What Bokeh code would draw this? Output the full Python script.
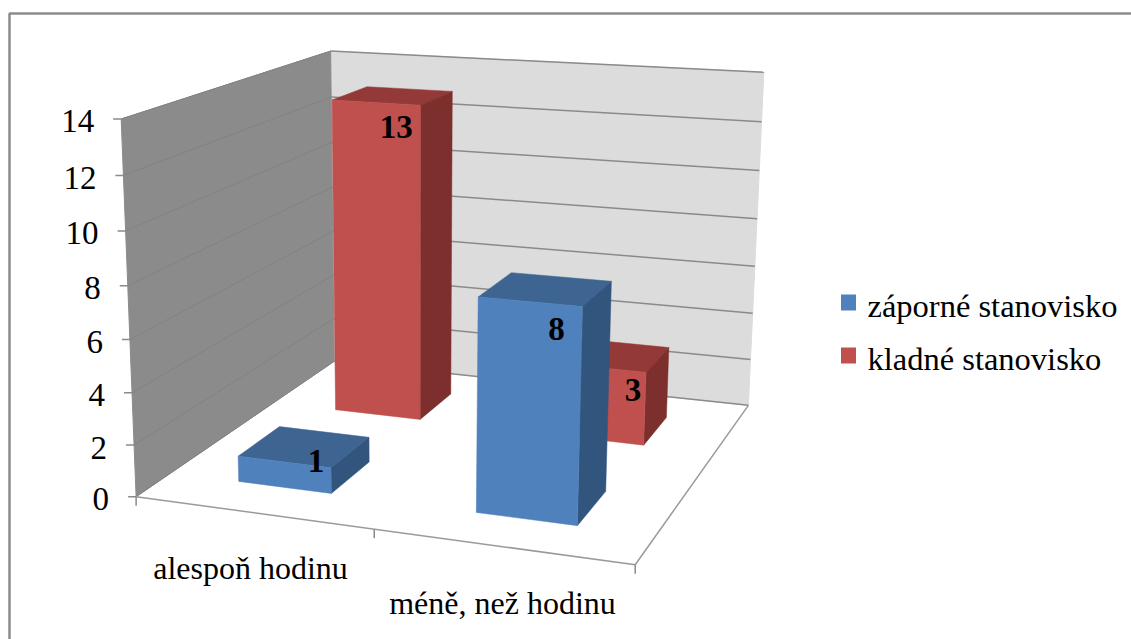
import numpy as np
from bokeh.core.properties import value
from bokeh.embed import file_html
from bokeh.models import Range1d
from bokeh.plotting import figure
from bokeh.resources import INLINE

# Chart content
categories = ["alespoň hodinu", "méně, než hodinu"]
series_names = ["záporné stanovisko", "kladné stanovisko"]
zaporne = [1, 8]
kladne = [13, 3]
value_ticks = [0, 2, 4, 6, 8, 10, 12, 14]

# Colours for each series: front, top, side
BLUE = ("#4f81bd", "#3e6592", "#32557e")
RED = ("#c0504d", "#933a38", "#7c2f2d")

# Camera calibration of the plot box: (category, depth, value) -> page pixel
BOX_WORLD = np.array([
    (0, 0, 0), (2, 0, 0), (0, 1, 0), (2, 1, 0),
    (0, 0, 14), (0, 1, 14), (2, 1, 14),
], dtype=float)
BOX_PAGE = np.array([
    (136, 495), (635, 565), (333, 362), (748, 404),
    (120, 119), (331, 50), (763, 72),
], dtype=float)


def fit_camera(world, page):
    rows, rhs = [], []
    for (u, v, h), (x, y) in zip(world, page):
        rows.append([u, v, h, 1, 0, 0, 0, 0, -x * u, -x * v, -x * h])
        rhs.append(x)
        rows.append([0, 0, 0, 0, u, v, h, 1, -y * u, -y * v, -y * h])
        rhs.append(y)
    sol = np.linalg.lstsq(np.array(rows), np.array(rhs), rcond=None)[0]
    return np.append(sol, 1.0).reshape(3, 4)


CAMERA = fit_camera(BOX_WORLD, BOX_PAGE)


def project(u, v, h):
    px, py, w = CAMERA @ np.array([u, v, h, 1.0])
    return px / w, py / w


def face(points):
    xs, ys = zip(*(project(*pt) for pt in points))
    return list(xs), list(ys)


SERIF = value("Liberation Serif")

p = figure(
    width=1131, height=639, output_backend="svg", toolbar_location=None,
    x_range=Range1d(0, 1131), y_range=Range1d(639, 0), min_border=0,
)
p.axis.visible = False
p.grid.visible = False
p.outline_line_color = None
p.background_fill_color = "white"

# Outer chart frame, open towards the page edges
p.line([1131, 9, 9], [13, 13, 639], line_color="#8c8c8c", line_width=2.5)

# Walls
xs, ys = face([(0, 1, 0), (2, 1, 0), (2, 1, 14), (0, 1, 14)])
p.patch(xs, ys, fill_color="#dcdcdc", line_color="#dcdcdc")
xs, ys = face([(0, 0, 0), (0, 1, 0), (0, 1, 14), (0, 0, 14)])
p.patch(xs, ys, fill_color="#8b8b8b", line_color="#8b8b8b")

# Gridlines on both walls, with the value ticks and labels
for tick in value_ticks:
    xs, ys = face([(0, 0, tick), (0, 1, tick)])
    p.line(xs, ys, line_color="#828282", line_width=1)
    xs, ys = face([(0, 1, tick), (2, 1, tick)])
    p.line(xs, ys, line_color="#8a8a8a", line_width=1.5)
    x0, y0 = project(0, 0, tick)
    p.segment([x0 - 8], [y0], [x0], [y0], line_color="#8a8a8a", line_width=1.5)
    p.text([x0 - 27], [y0 + 2.5], text=[str(tick)], text_font=SERIF,
           text_font_size="33px", text_align="right", text_baseline="middle",
           text_color="#000000")

# Floor edges and category ticks
xs, ys = face([(0, 0, 0), (2, 0, 0), (2, 1, 0)])
p.line(xs, ys, line_color="#9a9a9a", line_width=1.5)
for c in range(len(categories) + 1):
    x0, y0 = project(c, 0, 0)
    p.segment([x0], [y0], [x0], [y0 + 9], line_color="#8a8a8a", line_width=1.5)

BAR_U = (0.30, 0.70)      # bar extent within a category
BAR_V = (0.15, 0.35)      # bar extent within the depth of a series slot


def draw_bar(cat, slot, val, colours):
    u0, u1 = cat + BAR_U[0], cat + BAR_U[1]
    v0, v1 = slot + BAR_V[0], slot + BAR_V[1]
    front, top, side = colours
    for pts, col in (
        ([(u0, v0, val), (u1, v0, val), (u1, v1, val), (u0, v1, val)], top),
        ([(u1, v0, 0), (u1, v1, 0), (u1, v1, val), (u1, v0, val)], side),
        ([(u0, v0, 0), (u1, v0, 0), (u1, v0, val), (u0, v0, val)], front),
    ):
        xs, ys = face(pts)
        p.patch(xs, ys, fill_color=col, line_color=col, line_width=0.5)


# Rear series first so that the front series overlaps it
for cat, val in enumerate(kladne):
    draw_bar(cat, 0.5, val, RED)
for cat, val in enumerate(zaporne):
    draw_bar(cat, 0.0, val, BLUE)

# Data labels, placed relative to the top front edge of each bar
LABEL_SHIFT = {(0, 0.0): (-15, -7), (1, 0.0): (-26, 23), (0, 0.5): (-24, 22), (1, 0.5): (-13, 18)}
for slot, vals in ((0.5, kladne), (0.0, zaporne)):
    for cat, val in enumerate(vals):
        x0, y0 = project(cat + BAR_U[1], slot + BAR_V[0], val)
        dx, dy = LABEL_SHIFT[(cat, slot)]
        p.text([x0 + dx], [y0 + dy], text=[str(val)], text_font=SERIF,
               text_font_style="bold", text_font_size="33px", text_align="center",
               text_baseline="middle", text_color="#000000")

# Category labels
for x, y, label in zip((250, 502), (567, 602), categories):
    p.text([x], [y], text=[label], text_font=SERIF, text_font_size="32px",
           text_align="center", text_baseline="middle", text_color="#000000")

# Legend
for y, mid, name, col in zip((302, 355), (305, 358), series_names, (BLUE[0], RED[0])):
    p.rect([848], [y], width=15, height=16, fill_color=col, line_color=None)
    p.text([867], [mid], text=[name], text_font=SERIF, text_font_size="32.5px",
           text_align="left", text_baseline="middle", text_color="#000000")

open("out.html", "w").write(file_html(p, INLINE))
